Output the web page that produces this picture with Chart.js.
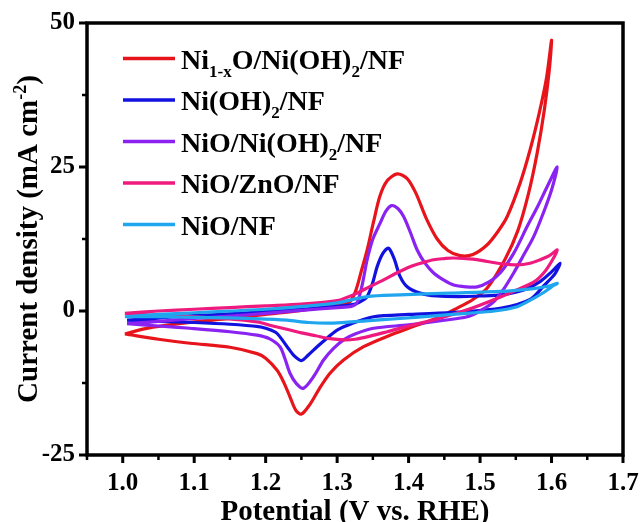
<!DOCTYPE html>
<html>
<head>
<meta charset="utf-8">
<script src="https://cdn.jsdelivr.net/npm/chart.js@4.4.1/dist/chart.umd.min.js"></script>
<style>
  html, body { margin: 0; padding: 0; background: #fff; }
  #wrap { width: 640px; height: 522px; }
</style>
</head>
<body>
<div id="wrap"><canvas id="cv"></canvas></div>
<script>
// axis ticks
const xTicks = [1.0, 1.1, 1.2, 1.3, 1.4, 1.5, 1.6, 1.7];
const xMinor = [0.95, 1.05, 1.15, 1.25, 1.35, 1.45, 1.55, 1.65];
const yTicks = [-25, 0, 25, 50];
const yMinor = [-12.5, 12.5, 37.5];

// legend labels (_{..} = subscript, ^{..} = superscript)
const labels = [
    'Ni_{1-x}O/Ni(OH)_{2}/NF',
    'Ni(OH)_{2}/NF',
    'NiO/Ni(OH)_{2}/NF',
    'NiO/ZnO/NF',
    'NiO/NF'
];
const colors = ['#e8141c', '#1212e0', '#8a22f2', '#ef1a7e', '#1fa6ee'];

// Ni1-xO/Ni(OH)2/NF : forward sweep then return sweep
const redV = [1.003, 1.03, 1.06, 1.10, 1.15, 1.20, 1.25, 1.29, 1.31, 1.318, 1.326, 1.334, 1.342, 1.351, 1.36, 1.37, 1.384, 1.398, 1.41, 1.425, 1.44, 1.455, 1.472, 1.49, 1.51, 1.525, 1.538, 1.556, 1.57, 1.583, 1.593, 1.600,
              1.597, 1.59, 1.58, 1.568, 1.553, 1.535, 1.51, 1.49, 1.468, 1.44, 1.40, 1.374, 1.337, 1.309, 1.29, 1.275, 1.262, 1.25, 1.242, 1.234, 1.225, 1.216, 1.2, 1.188, 1.15, 1.094, 1.05, 1.003];
const redJ = [-4.0, -3.1, -2.5, -1.9, -1.3, -0.6, 0.1, 0.8, 1.2, 1.6, 3.5, 7.0, 10.6, 15.5, 20.0, 22.6, 23.8, 23.0, 20.5, 16.0, 12.5, 10.5, 9.6, 9.8, 11.5, 13.8, 16.4, 22.2, 28.0, 34.5, 40.5, 47.0,
              42, 35, 27.5, 20.5, 14, 9, 4.0, 2.0, 0.5, -1.2, -3.0, -4.2, -6.2, -8.5, -10.8, -13.5, -16.2, -17.9, -17.2, -14.9, -12.3, -10.3, -8.2, -7.4, -6.3, -5.6, -4.9, -4.0];

// Ni(OH)2/NF
const blueV = [1.006, 1.05, 1.10, 1.15, 1.20, 1.25, 1.30, 1.325, 1.335, 1.342, 1.35, 1.356, 1.364, 1.372, 1.38, 1.388, 1.398, 1.416, 1.44, 1.47, 1.50, 1.53, 1.56, 1.585, 1.60, 1.612,
               1.605, 1.59, 1.57, 1.53, 1.47, 1.40, 1.351, 1.32, 1.30, 1.285, 1.272, 1.26, 1.25, 1.24, 1.23, 1.215, 1.2, 1.19, 1.15, 1.10, 1.05, 1.006];
const blueJ = [-1.6, -1.2, -0.8, -0.5, -0.1, 0.3, 0.8, 1.2, 1.8, 2.5, 5.0, 7.7, 10.0, 10.9, 9.0, 6.0, 4.2, 3.1, 2.6, 2.5, 2.6, 2.8, 3.6, 5.2, 6.8, 8.3,
               6.5, 4.5, 2.0, 0.5, -0.2, -0.6, -1.0, -2.2, -3.3, -4.8, -6.2, -7.6, -8.6, -7.8, -6.2, -3.8, -3.0, -2.7, -2.3, -2.0, -1.8, -1.6];

// NiO/Ni(OH)2/NF
const purpleV = [1.006, 1.05, 1.10, 1.15, 1.20, 1.25, 1.30, 1.32, 1.328, 1.335, 1.342, 1.35, 1.36, 1.368, 1.376, 1.385, 1.393, 1.402, 1.412, 1.423, 1.435, 1.45, 1.463, 1.48, 1.496, 1.512, 1.528, 1.547, 1.566, 1.58, 1.594, 1.608,
                 1.60, 1.59, 1.575, 1.56, 1.547, 1.533, 1.519, 1.50, 1.482, 1.45, 1.40, 1.351, 1.325, 1.309, 1.295, 1.281, 1.268, 1.253, 1.243, 1.234, 1.227, 1.22, 1.205, 1.188, 1.15, 1.094, 1.05, 1.006];
const purpleJ = [-2.2, -1.8, -1.3, -0.9, -0.4, 0.1, 0.6, 0.8, 1.5, 4.5, 8.9, 12.5, 15.2, 17.3, 18.3, 17.8, 16.4, 13.8, 10.6, 8.3, 6.6, 5.3, 4.5, 4.2, 4.2, 5.0, 6.6, 10.0, 14.7, 18.0, 21.6, 25.0,
                 21, 17.5, 12.9, 9.5, 6.6, 3.8, 1.6, 0.0, -1.0, -1.6, -2.4, -3.0, -4.0, -5.0, -6.5, -8.5, -11.2, -13.4, -12.6, -10.8, -8.3, -6.2, -4.8, -4.2, -3.6, -3.0, -2.6, -2.2];

// NiO/ZnO/NF
const pinkV = [1.003, 1.05, 1.10, 1.15, 1.20, 1.25, 1.30, 1.328, 1.345, 1.365, 1.383, 1.402, 1.42, 1.435, 1.45, 1.463, 1.49, 1.51, 1.53, 1.552, 1.57, 1.584, 1.597, 1.608,
               1.60, 1.589, 1.575, 1.552, 1.52, 1.482, 1.44, 1.40, 1.37, 1.345, 1.325, 1.31, 1.29, 1.27, 1.25, 1.234, 1.21, 1.188, 1.141, 1.10, 1.05, 1.003];
const pinkJ = [-0.4, 0.0, 0.3, 0.6, 0.9, 1.2, 1.8, 3.1, 4.2, 5.4, 6.6, 7.7, 8.4, 8.9, 9.1, 9.2, 9.0, 8.6, 8.2, 8.0, 8.3, 8.9, 9.6, 10.6,
               8.6, 6.6, 5.0, 3.7, 2.0, 0.2, -1.4, -2.6, -3.6, -4.4, -4.9, -5.0, -4.8, -4.3, -3.8, -3.3, -2.6, -1.9, -1.3, -1.0, -0.7, -0.4];

// NiO/NF
const cyanV = [1.003, 1.05, 1.10, 1.15, 1.20, 1.248, 1.30, 1.342, 1.388, 1.458, 1.528, 1.575, 1.595, 1.608,
               1.60, 1.59, 1.575, 1.552, 1.52, 1.482, 1.44, 1.388, 1.34, 1.295, 1.26, 1.23, 1.18, 1.15, 1.10, 1.05, 1.003];
const cyanJ = [-1.0, -0.6, -0.3, 0.0, 0.3, 0.75, 1.4, 2.5, 2.8, 3.1, 3.4, 3.9, 4.3, 4.8,
               4.2, 3.3, 2.2, 0.75, 0.0, -0.4, -0.8, -1.3, -1.7, -2.1, -2.0, -1.6, -1.3, -1.2, -1.1, -1.0, -1.0];

const seriesV = [redV, blueV, purpleV, pinkV, cyanV];
const seriesJ = [redJ, blueJ, purpleJ, pinkJ, cyanJ];

const FONT = "'Liberation Serif', 'Times New Roman', serif";

// split text into plain / _{sub} / ^{sup} parts
function richParts(str) {
    const parts = [];
    const re = /([_^])\{([^}]*)\}/g;
    let last = 0, m;
    while ((m = re.exec(str)) !== null) {
        if (m.index > last) parts.push({ t: str.slice(last, m.index), k: '' });
        parts.push({ t: m[2], k: m[1] });
        last = re.lastIndex;
    }
    if (last < str.length) parts.push({ t: str.slice(last), k: '' });
    return parts;
}

// draws (or only measures) rich text, returns width
function richText(ctx, str, x, y, size, measureOnly) {
    let cx = x;
    richParts(str).forEach(p => {
        const s = p.k ? Math.round(size * 0.62) : size;
        ctx.font = 'bold ' + s + 'px ' + FONT;
        const dy = p.k === '_' ? size * 0.3 : (p.k === '^' ? -size * 0.38 : 0);
        if (!measureOnly) ctx.fillText(p.t, cx, y + dy);
        cx += ctx.measureText(p.t).width;
    });
    return cx - x;
}

const decor = {
    id: 'decor',
    afterDraw(chart) {
        const { ctx, chartArea: a, scales } = chart;
        ctx.save();
        ctx.strokeStyle = '#000';
        ctx.fillStyle = '#000';

        // frame
        ctx.lineWidth = 3.5;
        ctx.strokeRect(a.left, a.top, a.right - a.left, a.bottom - a.top);

        // ticks, outward on bottom and left
        ctx.lineWidth = 3;
        ctx.beginPath();
        xTicks.forEach(v => { const p = scales.x.getPixelForValue(v); ctx.moveTo(p, a.bottom); ctx.lineTo(p, a.bottom + 8); });
        yTicks.forEach(v => { const p = scales.y.getPixelForValue(v); ctx.moveTo(a.left, p); ctx.lineTo(a.left - 8, p); });
        ctx.stroke();
        ctx.lineWidth = 2.5;
        ctx.beginPath();
        xMinor.forEach(v => { const p = scales.x.getPixelForValue(v); ctx.moveTo(p, a.bottom); ctx.lineTo(p, a.bottom + 5); });
        yMinor.forEach(v => { const p = scales.y.getPixelForValue(v); ctx.moveTo(a.left, p); ctx.lineTo(a.left - 5, p); });
        ctx.stroke();

        // legend
        ctx.textBaseline = 'alphabetic';
        ctx.textAlign = 'left';
        labels.forEach((lab, i) => {
            const y = 58.5 + i * 41.5;
            ctx.strokeStyle = colors[i];
            ctx.lineWidth = 3.5;
            ctx.beginPath();
            ctx.moveTo(123, y);
            ctx.lineTo(175, y);
            ctx.stroke();
            richText(ctx, lab, 181, y + 10, 28);
        });

        // x title
        ctx.font = 'bold 29px ' + FONT;
        ctx.textAlign = 'center';
        ctx.fillText('Potential (V vs. RHE)', (a.left + a.right) / 2, 520);

        // y title
        const yt = 'Current density (mA cm^{-2})';
        ctx.textAlign = 'left';
        const w = richText(ctx, yt, 0, 0, 29, true);
        ctx.translate(37, (a.top + a.bottom) / 2);
        ctx.rotate(-Math.PI / 2);
        richText(ctx, yt, -w / 2, 0, 29);
        ctx.restore();
    }
};

new Chart(document.getElementById('cv'), {
    type: 'scatter',
    data: {
        datasets: seriesV.map((vs, i) => ({
            label: labels[i],
            data: vs.map((v, k) => ({ x: v, y: seriesJ[i][k] })),
            showLine: true,
            borderColor: colors[i],
            backgroundColor: colors[i],
            borderWidth: 3.2,
            pointRadius: 0,
            tension: 0.3,
            order: 5 - i
        }))
    },
    options: {
        responsive: true,
        maintainAspectRatio: false,
        animation: false,
        devicePixelRatio: 1,
        layout: { padding: { left: 0, right: 17, top: 23, bottom: 0 } },
        scales: {
            x: {
                type: 'linear',
                min: 0.95,
                max: 1.7,
                afterBuildTicks: s => { s.ticks = xTicks.map(v => ({ value: v })); },
                afterFit: s => { s.height = 67; s.paddingLeft = 0; s.paddingRight = 0; },
                ticks: {
                    autoSkip: false,
                    maxRotation: 0,
                    padding: 14,
                    color: '#000',
                    font: { family: FONT, size: 25, weight: 'bold' },
                    callback: v => v.toFixed(1)
                },
                grid: { display: false, drawTicks: false },
                border: { display: false }
            },
            y: {
                type: 'linear',
                min: -25,
                max: 50,
                afterBuildTicks: s => { s.ticks = yTicks.map(v => ({ value: v })); },
                afterFit: s => { s.width = 87; s.paddingTop = 0; s.paddingBottom = 0; },
                ticks: {
                    padding: 12,
                    color: '#000',
                    font: { family: FONT, size: 25, weight: 'bold' },
                    callback: v => String(v)
                },
                grid: { display: false, drawTicks: false },
                border: { display: false }
            }
        },
        plugins: {
            legend: { display: false },
            tooltip: { enabled: false }
        }
    },
    plugins: [decor]
});
</script>
</body>
</html>
